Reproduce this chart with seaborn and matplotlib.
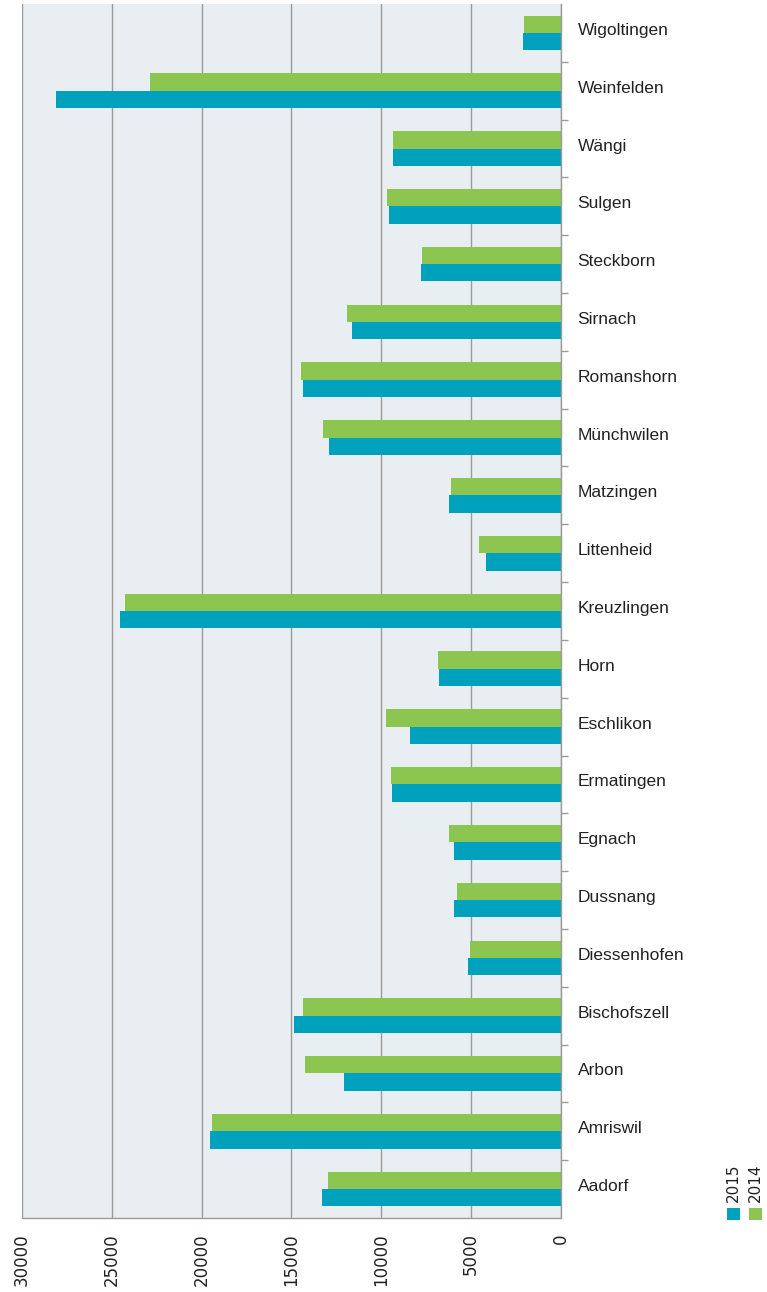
import numpy as np
import pandas as pd
import matplotlib
matplotlib.use("Agg")
import matplotlib.pyplot as plt
from matplotlib.patches import Rectangle
from matplotlib.transforms import ScaledTranslation
import seaborn as sns

# ---- data ----
gemeinden = ["Wigoltingen", "Weinfelden", "Wängi", "Sulgen", "Steckborn", "Sirnach",
             "Romanshorn", "Münchwilen", "Matzingen", "Littenheid", "Kreuzlingen", "Horn",
             "Eschlikon", "Ermatingen", "Egnach", "Dussnang", "Diessenhofen", "Bischofszell",
             "Arbon", "Amriswil", "Aadorf"]
werte_2014 = [2060, 22870, 9370, 9670, 7740, 11900, 14470, 13230, 6150, 4540, 24240, 6870,
              9720, 9440, 6220, 5780, 5060, 14380, 14230, 19400, 12970]
werte_2015 = [2130, 28090, 9330, 9560, 7820, 11640, 14340, 12900, 6220, 4150, 24570, 6780,
              8390, 9410, 5940, 5940, 5170, 14860, 12080, 19540, 13320]
jahre = ["2014", "2015"]
x_ticks = [30000, 25000, 20000, 15000, 10000, 5000, 0]
x_ticklabels = ["30000", "25000", "20000", "15000", "10000", "5000", "0"]

farben = {"2014": "#8cc650", "2015": "#00a1bd"}

df = pd.DataFrame({
    "Gemeinde": gemeinden * 2,
    "Wert": werte_2014 + werte_2015,
    "Jahr": ["2014"] * len(gemeinden) + ["2015"] * len(gemeinden),
})

sns.set_style("white")
plt.rcParams["font.family"] = ["Liberation Sans", "DejaVu Sans"]

W, H = 767, 1292
fig = plt.figure(figsize=(W / 100, H / 100), dpi=100)
ax = fig.add_axes([22 / W, 1 - 1218 / H, (561 - 22) / W, (1218 - 4) / H])

sns.barplot(data=df, y="Gemeinde", x="Wert", hue="Jahr", order=gemeinden,
            hue_order=jahre, palette=farben, orient="h", width=0.6,
            linewidth=0, saturation=1, ax=ax, legend=False)

ax.set_facecolor("#e9eef2")
ax.set_xlim(30000, 0)
ax.set_ylim(len(gemeinden) - 0.5, -0.5)
ax.set_xlabel("")
ax.set_ylabel("")

grid_col = "#9b9b9b"
ax.set_xticks(x_ticks)
ax.set_xticklabels(x_ticklabels, rotation=90, family="DejaVu Sans", fontsize=12,
                   color="#222222")
ax.tick_params(axis="x", direction="out", length=5, width=1, color=grid_col, pad=6)
ax.xaxis.grid(True, color=grid_col, linewidth=1)
ax.set_axisbelow(True)

ax.yaxis.tick_right()
ax.set_yticks(range(len(gemeinden)))
ax.set_yticklabels(gemeinden, fontsize=12.5, color="#222222")
ax.tick_params(axis="y", which="major", length=0, pad=12)
ax.set_yticks(np.arange(len(gemeinden) - 1) + 0.5, minor=True)
ax.tick_params(axis="y", which="minor", right=True, left=False, direction="out",
               length=5, width=1, color=grid_col)
for lab in ax.get_yticklabels():
    lab.set_transform(lab.get_transform() + ScaledTranslation(0, 4 / 100, fig.dpi_scale_trans))

ax.spines["top"].set_visible(False)
ax.spines["left"].set_visible(False)
ax.spines["right"].set_color(grid_col)
ax.spines["bottom"].set_color(grid_col)
ax.spines["right"].set_linewidth(1)
ax.spines["bottom"].set_linewidth(1)

# rotated legend
for x0, jahr in [(727, "2015"), (749, "2014")]:
    fig.add_artist(Rectangle((x0 / W, 1 - 1220 / H), 13 / W, 12 / H,
                             transform=fig.transFigure, facecolor=farben[jahr],
                             edgecolor="none"))
    fig.text((x0 + 6.5) / W, 1 - 1202 / H, jahr, rotation=90, ha="center", va="bottom",
             fontsize=11, family="DejaVu Sans", color="#222222")

fig.savefig("out.png", dpi=100)
